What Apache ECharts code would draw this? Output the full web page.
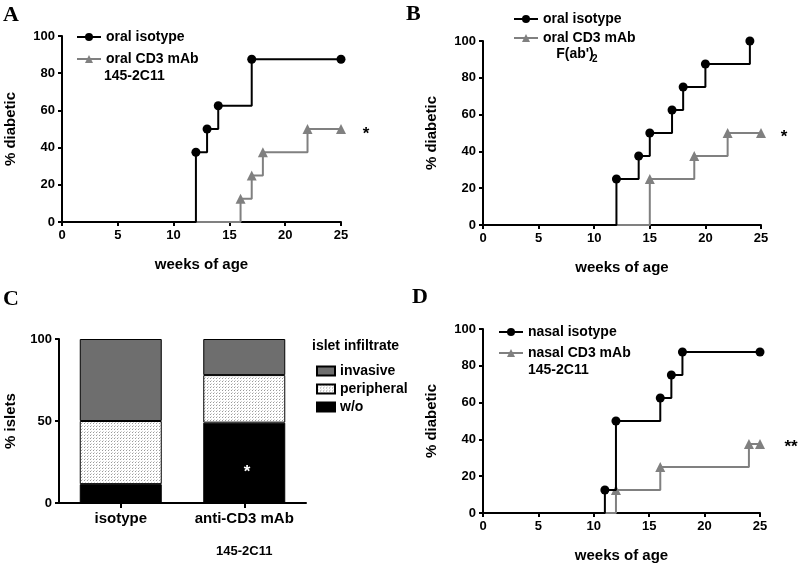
<!DOCTYPE html>
<html><head><meta charset="utf-8">
<script src="https://cdn.jsdelivr.net/npm/echarts@6/dist/echarts.min.js"></script>
<style>html,body{margin:0;padding:0;background:#fff}#c{width:800px;height:568px}</style>
</head><body><div id="c"></div>
<script>
// Panel A
const weeksA_iso = [0, 12, 13, 14, 17, 25];
const pctA_iso   = [0, 37.5, 50, 62.5, 87.5, 87.5];
const weeksA_cd3 = [0, 16, 17, 18, 22, 25];
const pctA_cd3   = [0, 12.5, 25, 37.5, 50, 50];
// Panel B
const weeksB_iso = [0, 12, 14, 15, 17, 18, 20, 24];
const pctB_iso   = [0, 25, 37.5, 50, 62.5, 75, 87.5, 100];
const weeksB_cd3 = [0, 15, 19, 22, 25];
const pctB_cd3   = [0, 25, 37.5, 50, 50];
// Panel D
const weeksD_iso = [0, 11, 12, 16, 17, 18, 25];
const pctD_iso   = [0, 12.5, 50, 62.5, 75, 87.5, 87.5];
const weeksD_cd3 = [0, 12, 16, 24, 25];
const pctD_cd3   = [0, 12.5, 25, 37.5, 37.5];
// Panel C
const groupsC = ['isotype', 'anti-CD3 mAb\n145-2C11'];
const woC = [11.5, 49];
const periphC = [38.5, 29];
const invasiveC = [50, 22];
const xTicks = [0, 5, 10, 15, 20, 25];
const yTicks = [0, 20, 40, 60, 80, 100];

const FONT = '"Liberation Sans", Arial, sans-serif';
const GRAY = '#808080';

function pts(w, p) {
  return w.map((x, i) => i === 0 ? { value: [x, p[i]], symbol: 'none' } : { value: [x, p[i]] });
}

const chart = echarts.init(document.getElementById('c'), null, { renderer: 'canvas' });

// dotted pattern for "peripheral"
const pc = document.createElement('canvas');
pc.width = 3; pc.height = 3;
const pctx = pc.getContext('2d');
pctx.fillStyle = '#ffffff'; pctx.fillRect(0, 0, 3, 3);
pctx.fillStyle = '#9a9a9a'; pctx.fillRect(0, 0, 1, 1);
pctx.fillStyle = '#d0d0d0'; pctx.fillRect(1, 2, 1, 1);
const dotted = { image: pc, repeat: 'repeat' };

const axisLine = { show: true, lineStyle: { color: '#000', width: 2 } };
const axisTick = { show: true, inside: false, length: 4, lineStyle: { color: '#000', width: 2 } };
const axisLabel = { color: '#000', fontWeight: 'bold', fontSize: 13, fontFamily: FONT, margin: 7 };
const nameStyle = { color: '#000', fontWeight: 'bold', fontSize: 15, fontFamily: FONT };

function valX(gi) {
  return {
    type: 'value', gridIndex: gi, min: xTicks[0], max: xTicks[xTicks.length - 1], interval: 5,
    axisLine, axisTick, axisLabel, splitLine: { show: false },
    name: 'weeks of age', nameLocation: 'middle', nameGap: 35, nameTextStyle: nameStyle
  };
}
function valY(gi) {
  return {
    type: 'value', gridIndex: gi, min: yTicks[0], max: yTicks[yTicks.length - 1], interval: 20,
    axisLine, axisTick, axisLabel, splitLine: { show: false },
    name: '% diabetic', nameLocation: 'middle', nameGap: 44, nameTextStyle: nameStyle
  };
}
function blackLine(name, gi, w, p) {
  return {
    type: 'line', name, xAxisIndex: gi, yAxisIndex: gi, step: 'end', z: 4, clip: false,
    data: pts(w, p), symbol: 'circle', symbolSize: 9,
    lineStyle: { color: '#000', width: 2 }, itemStyle: { color: '#000' }, animation: false
  };
}
function grayLine(name, gi, w, p) {
  return {
    type: 'line', name, xAxisIndex: gi, yAxisIndex: gi, step: 'end', z: 3, clip: false,
    data: pts(w, p), symbol: 'triangle', symbolSize: 10,
    lineStyle: { color: GRAY, width: 2 }, itemStyle: { color: GRAY }, animation: false
  };
}
const legendBase = {
  orient: 'vertical', selectedMode: false, itemWidth: 24, itemHeight: 10, itemGap: 8,
  textStyle: { color: '#000', fontWeight: 'bold', fontSize: 14, fontFamily: FONT }
};
const txt = (x, y, text, size, extra) => ({
  type: 'text', x, y, z: 100,
  style: Object.assign({ text, fill: '#000', font: 'bold ' + size + 'px ' + FONT, textAlign: 'left', textVerticalAlign: 'middle' }, extra || {})
});
const letter = (x, y, t) => ({
  type: 'text', x, y, z: 100,
  style: { text: t, fill: '#000', font: 'bold 22px "Liberation Serif", "Times New Roman", serif', textAlign: 'left', textVerticalAlign: 'top' }
});

const option = {
  backgroundColor: '#fff',
  animation: false,
  grid: [
    { left: 62, top: 36, width: 279, height: 186 },
    { left: 483, top: 41, width: 278, height: 184 },
    { left: 59, top: 339, width: 247, height: 164 },
    { left: 483, top: 329, width: 277, height: 184 }
  ],
  xAxis: [
    valX(0), valX(1),
    {
      type: 'category', gridIndex: 2, data: groupsC,
      axisLine, axisTick: { show: true, alignWithLabel: true, length: 5, lineStyle: { color: '#000', width: 2 } },
      axisLabel: {
        margin: 6, interval: 0,
        formatter: v => { const s = v.split('\n'); return s.length > 1 ? '{a|' + s[0] + '}\n{b|' + s[1] + '}' : '{a|' + s[0] + '}'; },
        rich: {
          a: { color: '#000', fontWeight: 'bold', fontSize: 15, fontFamily: FONT, lineHeight: 20 },
          b: { color: '#000', fontWeight: 'bold', fontSize: 13, fontFamily: FONT, lineHeight: 44 }
        }
      }
    },
    valX(3)
  ],
  yAxis: [
    valY(0), valY(1),
    {
      type: 'value', gridIndex: 2, min: 0, max: 100, interval: 50,
      axisLine, axisTick, axisLabel, splitLine: { show: false },
      name: '% islets', nameLocation: 'middle', nameGap: 41, nameTextStyle: nameStyle
    },
    valY(3)
  ],
  legend: [
    Object.assign({}, legendBase, { left: 71, top: 25, data: ['oral isotype', 'oral CD3 mAb'], itemGap: 8 }),
    Object.assign({}, legendBase, { left: 508, top: 7, data: ['oral isotype', 'oral CD3 mAb'], itemGap: 5 }),
    Object.assign({}, legendBase, { left: 493, top: 320, data: ['nasal isotype', 'nasal CD3 mAb'], itemGap: 7 }),
    {
      orient: 'vertical', selectedMode: false, left: 311, top: 359, itemWidth: 18, itemHeight: 9, itemGap: 4,
      icon: 'rect',
      data: ['invasive', 'peripheral', 'w/o'],
      textStyle: { color: '#000', fontWeight: 'bold', fontSize: 14, fontFamily: FONT }
    }
  ],
  series: [
    grayLine('oral CD3 mAb', 0, weeksA_cd3, pctA_cd3),
    blackLine('oral isotype', 0, weeksA_iso, pctA_iso),
    grayLine('oral CD3 mAb', 1, weeksB_cd3, pctB_cd3),
    blackLine('oral isotype', 1, weeksB_iso, pctB_iso),
    grayLine('nasal CD3 mAb', 3, weeksD_cd3, pctD_cd3),
    blackLine('nasal isotype', 3, weeksD_iso, pctD_iso),
    {
      type: 'bar', name: 'w/o', xAxisIndex: 2, yAxisIndex: 2, stack: 'c', barWidth: 82,
      data: woC, itemStyle: { color: '#000', borderColor: '#000', borderWidth: 1 }
    },
    {
      type: 'bar', name: 'peripheral', xAxisIndex: 2, yAxisIndex: 2, stack: 'c', barWidth: 82,
      data: periphC, itemStyle: { color: dotted, borderColor: '#000', borderWidth: 1 }
    },
    {
      type: 'bar', name: 'invasive', xAxisIndex: 2, yAxisIndex: 2, stack: 'c', barWidth: 82,
      data: invasiveC, itemStyle: { color: '#6e6e6e', borderColor: '#000', borderWidth: 1 }
    }
  ],
  graphic: [
    letter(3, 4, 'A'), letter(406, 3, 'B'), letter(3, 288, 'C'), letter(412, 286, 'D'),
    txt(104, 76, '145-2C11', 14),
    txt(575, 54, "F(ab')", 14, { textAlign: 'center' }),
    txt(592, 59, '2', 10),
    txt(528, 370, '145-2C11', 14),
    txt(312, 346, 'islet infiltrate', 14),
    txt(366, 134, '*', 17, { textAlign: 'center' }),
    txt(784, 137, '*', 17, { textAlign: 'center' }),
    txt(791, 447, '**', 17, { textAlign: 'center' }),
    txt(247, 472, '*', 17, { textAlign: 'center', fill: '#fff' })
  ]
};
chart.setOption(option);
</script></body></html>
